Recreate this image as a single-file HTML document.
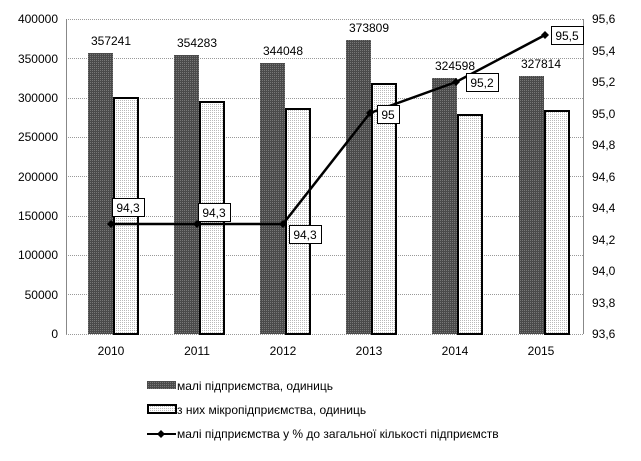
<!DOCTYPE html><html><head><style>body{margin:0;background:#fff}svg{font-family:"Liberation Sans",sans-serif}</style></head><body>
<svg width="641" height="456" viewBox="0 0 641 456">
<defs>
<pattern id="d" width="2" height="2" patternUnits="userSpaceOnUse"><rect width="2" height="2" fill="#4a4a4a"/><rect width="1" height="1" fill="#777"/></pattern>
<pattern id="l" width="2" height="2" patternUnits="userSpaceOnUse"><rect width="2" height="2" fill="#fff"/><rect width="1" height="1" fill="#bbb"/></pattern>
</defs>
<g stroke="#999" stroke-dasharray="1,1" stroke-width="1">
<line x1="66" x2="583" y1="19.5" y2="19.5"/><line x1="66" x2="583" y1="58.5" y2="58.5"/><line x1="66" x2="583" y1="98.5" y2="98.5"/><line x1="66" x2="583" y1="137.5" y2="137.5"/><line x1="66" x2="583" y1="176.5" y2="176.5"/><line x1="66" x2="583" y1="216.5" y2="216.5"/><line x1="66" x2="583" y1="255.5" y2="255.5"/><line x1="66" x2="583" y1="294.5" y2="294.5"/><line x1="66" x2="583" y1="334.5" y2="334.5"/>
</g>
<g stroke="#888"><line x1="66.5" x2="66.5" y1="19" y2="334"/><line x1="583.5" x2="583.5" y1="19" y2="334"/></g>
<g fill="url(#d)">
<rect x="88" y="53" width="25" height="281"/><rect x="174" y="55" width="25" height="279"/><rect x="260" y="63" width="25" height="271"/><rect x="346" y="40" width="25" height="294"/><rect x="432" y="78" width="25" height="256"/><rect x="519" y="76" width="25" height="258"/>
</g>
<g fill="url(#l)" stroke="#000" stroke-width="2">
<rect x="114" y="98" width="24" height="236"/><rect x="200" y="102" width="24" height="232"/><rect x="286" y="109" width="24" height="225"/><rect x="372" y="84" width="24" height="250"/><rect x="458" y="115" width="24" height="219"/><rect x="545" y="111" width="24" height="223"/>
</g>
<g font-size="12" text-anchor="middle" fill="#000">
<text x="111" y="45">357241</text><text x="197" y="47">354283</text><text x="283" y="55">344048</text><text x="369" y="32">373809</text><text x="455" y="70">324598</text><text x="541" y="68">327814</text>
</g>
<polyline points="111,224 197,224 283,224 370,113 456,82 545,35" fill="none" stroke="#000" stroke-width="2.5"/>
<g fill="#000"><path d="M111,220l4,4-4,4-4-4z"/><path d="M197,220l4,4-4,4-4-4z"/><path d="M283,220l4,4-4,4-4-4z"/><path d="M370,109l4,4-4,4-4-4z"/><path d="M456,78l4,4-4,4-4-4z"/><path d="M545,31l4,4-4,4-4-4z"/></g>
<g fill="#fff" stroke="#000"><rect x="112.5" y="198.5" width="32" height="18"/><rect x="198.5" y="203.5" width="32" height="18"/><rect x="289.5" y="225.5" width="32" height="18"/><rect x="377.5" y="105.5" width="22" height="18"/><rect x="466.5" y="73.5" width="32" height="18"/><rect x="551.5" y="26.5" width="32" height="18"/></g>
<g font-size="12" text-anchor="middle"><text x="128" y="212">94,3</text><text x="214" y="217">94,3</text><text x="305" y="239">94,3</text><text x="388" y="119">95</text><text x="482" y="87">95,2</text><text x="567" y="40">95,5</text></g>
<g font-size="12" text-anchor="end"><text x="58" y="23">400000</text><text x="58" y="63">350000</text><text x="58" y="102">300000</text><text x="58" y="141">250000</text><text x="58" y="181">200000</text><text x="58" y="220">150000</text><text x="58" y="259">100000</text><text x="58" y="299">50000</text><text x="58" y="338">0</text></g>
<g font-size="12"><text x="592" y="23">95,6</text><text x="592" y="55">95,4</text><text x="592" y="86">95,2</text><text x="592" y="118">95,0</text><text x="592" y="149">94,8</text><text x="592" y="181">94,6</text><text x="592" y="212">94,4</text><text x="592" y="244">94,2</text><text x="592" y="275">94,0</text><text x="592" y="307">93,8</text><text x="592" y="338">93,6</text></g>
<g font-size="12" text-anchor="middle"><text x="111" y="355">2010</text><text x="197" y="355">2011</text><text x="283" y="355">2012</text><text x="369" y="355">2013</text><text x="455" y="355">2014</text><text x="541" y="355">2015</text></g>
<rect x="147" y="381" width="29" height="8" fill="url(#d)"/>
<rect x="148" y="405" width="28" height="8" fill="url(#l)" stroke="#000" stroke-width="2"/>
<line x1="147" x2="176" y1="434" y2="434" stroke="#000" stroke-width="2"/><path d="M161,430l4,4-4,4-4-4z"/>
<g font-size="12"><text x="177" y="390">малі підприємства, одиниць</text><text x="177" y="414">з них мікропідприємства, одиниць</text><text x="177" y="438">малі підприємства  у % до загальної кількості підприємств</text></g>
</svg></body></html>
